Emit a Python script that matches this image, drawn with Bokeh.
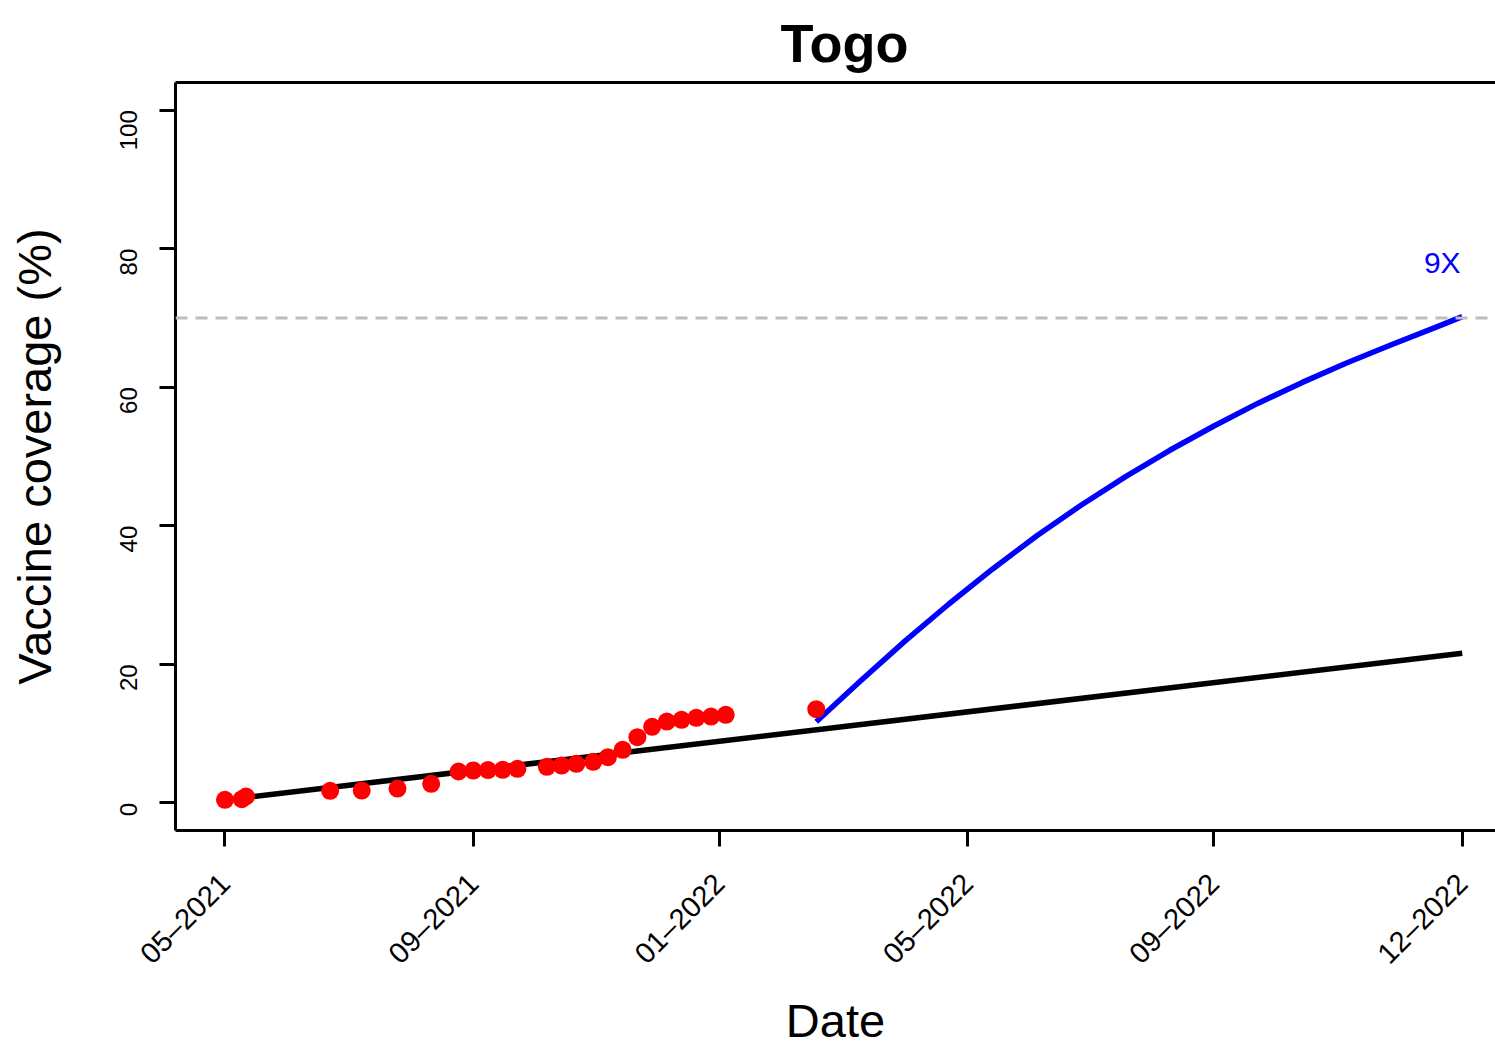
import math
import numpy as np
import pandas as pd
from bokeh.plotting import figure
from bokeh.models import Range1d, FixedTicker, LinearAxis, Span
from bokeh.embed import file_html
from bokeh.resources import INLINE
from bokeh.core.properties import value

# ---------------- data ----------------
country = "Togo"
start_date = "2021-05-22"
end_date = "2022-12-31"

obs_dates = ["2021-05-22", "2021-05-30", "2021-06-01", "2021-07-11", "2021-07-26",
             "2021-08-12", "2021-08-28", "2021-09-10", "2021-09-17", "2021-09-24",
             "2021-10-01", "2021-10-08", "2021-10-22", "2021-10-29", "2021-11-05",
             "2021-11-13", "2021-11-20", "2021-11-27", "2021-12-04", "2021-12-11",
             "2021-12-18", "2021-12-25", "2022-01-01", "2022-01-08", "2022-01-15",
             "2022-02-27"]
obs_coverage = [0.43, 0.53, 0.91, 1.73, 1.77, 2.06, 2.74, 4.52, 4.66, 4.72,
                4.76, 4.91, 5.20, 5.38, 5.63, 5.92, 6.59, 7.65, 9.48, 10.97,
                11.73, 11.98, 12.27, 12.45, 12.70, 13.52]

trend_dates = ["2021-05-30", "2022-12-31"]
trend_coverage = [0.7, 21.6]

scenario_dates = ["2022-02-27", "2022-03-20", "2022-04-10", "2022-05-01", "2022-05-22",
                  "2022-06-12", "2022-07-03", "2022-07-24", "2022-08-14", "2022-09-04",
                  "2022-09-25", "2022-10-16", "2022-11-06", "2022-11-27", "2022-12-18",
                  "2022-12-31"]
scenario_coverage = [11.7, 17.6, 23.3, 28.7, 33.8, 38.6, 43.0, 47.1, 50.9, 54.4,
                     57.7, 60.7, 63.5, 66.1, 68.6, 70.2]
scenario_label = "9X"

target_coverage = 70
y_ticks = [0, 20, 40, 60, 80, 100]
n_x_ticks = 6

# ---------------- helpers ----------------
DAY = 86400000.0


def ms(d):
    return pd.Timestamp(d).value / 1e6


t0 = ms(start_date)
t1 = ms(end_date)
span_days = (t1 - t0) / DAY
tick_ms = [t0 + round(k * span_days / (n_x_ticks - 1)) * DAY for k in range(n_x_ticks)]
tick_labels = {t: pd.Timestamp(int(t), unit="ms").strftime("%m–%Y") for t in tick_ms}

FONT = "Liberation Sans"
W, H = 1495, 1049

p = figure(width=W, height=H, x_axis_type="datetime",
           output_backend="svg", toolbar_location=None,
           x_range=Range1d(t0 - 23.5 * DAY, t1 + 15.8 * DAY),
           y_range=Range1d(-4, 104),
           min_border_left=175, min_border_right=0,
           min_border_top=82, min_border_bottom=H - 831)
p.outline_line_color = None
p.xgrid.visible = False
p.ygrid.visible = False
p.background_fill_color = "white"
p.border_fill_color = "white"

# title
p.title.text = country
p.title.text_font = FONT
p.title.text_font_size = "54px"
p.title.text_font_style = "bold"
p.title.text_color = "black"
p.title.align = "left"
p.title.offset = 605
p.title.standoff = 20

# axes styling
for ax in (p.xaxis[0], p.yaxis[0]):
    ax.axis_line_width = 3
    ax.axis_line_color = "black"
    ax.major_tick_line_width = 3
    ax.major_tick_line_color = "black"
    ax.major_tick_in = 0
    ax.major_tick_out = 16
    ax.minor_tick_line_color = None
    ax.major_label_text_font = FONT
    ax.major_label_text_color = "black"
    ax.axis_label_text_font = FONT
    ax.axis_label_text_font_size = "47px"
    ax.axis_label_text_font_style = "normal"
    ax.axis_label_text_color = "black"

p.yaxis.ticker = FixedTicker(ticks=y_ticks)
p.yaxis.major_label_orientation = math.pi / 2
p.yaxis.major_label_text_font_size = "24px"
p.yaxis.major_label_standoff = 31
p.yaxis.axis_label = "Vaccine coverage (%)"
p.yaxis.axis_label_standoff = 48

p.xaxis.ticker = FixedTicker(ticks=tick_ms)
p.xaxis.major_label_overrides = tick_labels
p.xaxis.major_label_orientation = math.pi / 4
p.xaxis.major_label_text_font_size = "29px"
p.xaxis.major_label_standoff = 32
p.xaxis.axis_label = "Date"
p.xaxis.axis_label_standoff = 10

# top frame line
top = LinearAxis(ticker=FixedTicker(ticks=[]), axis_line_width=3,
                 major_tick_out=0, major_tick_in=0, major_label_standoff=0,
                 major_tick_line_color=None, minor_tick_line_color=None,
                 major_label_text_font_size="0px")
p.add_layout(top, "above")

# target line
p.add_layout(Span(location=target_coverage, dimension="width",
                  line_color="#BEBEBE", line_width=3, line_dash="12 8"))

# lines and points
p.line(x=[ms(d) for d in trend_dates], y=trend_coverage, line_color="black", line_width=5.5)
p.line(x=[ms(d) for d in scenario_dates], y=scenario_coverage, line_color="blue",
       line_width=5.5, line_join="round")
p.scatter(x=[ms(d) for d in obs_dates], y=obs_coverage, size=18,
          fill_color="red", line_color=None)

p.text(x=[ms(scenario_dates[-1])], y=[78], text=[scenario_label],
       text_color="blue", text_font=value(FONT), text_font_size="30px",
       text_align="center", text_baseline="middle", x_offset=-20)

open("out.html", "w").write(file_html(p, INLINE))
